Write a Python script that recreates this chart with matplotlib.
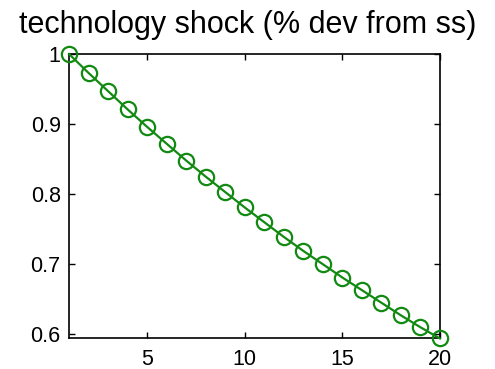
import matplotlib
matplotlib.use("Agg")
import matplotlib.pyplot as plt

periods = list(range(1, 21))
shock = [1.000, 0.973, 0.947, 0.921, 0.896, 0.872, 0.848, 0.825, 0.803, 0.781,
         0.760, 0.739, 0.719, 0.700, 0.681, 0.663, 0.645, 0.627, 0.610, 0.594]
xticks = [5, 10, 15, 20]
yticks = [0.6, 0.7, 0.8, 0.9, 1.0]
ytick_labels = ["0.6", "0.7", "0.8", "0.9", "1"]

plt.rcParams["font.family"] = ["Liberation Sans", "DejaVu Sans"]

fig = plt.figure(figsize=(4.95, 3.69), dpi=100)
ax = fig.add_axes([69 / 495, 1 - 338 / 369, (440 - 69) / 495, (338 - 54) / 369])

ax.plot(periods, shock, color="#128a12", linewidth=1.6, marker="o",
        markersize=11, markerfacecolor="none", markeredgewidth=1.6,
        clip_on=False, zorder=3)

ax.set_xlim(1, 20)
ax.set_ylim(0.5947, 1.0)
ax.set_xticks(xticks)
ax.set_yticks(yticks)
ax.set_yticklabels(ytick_labels)
ax.tick_params(direction="in", length=4, width=1, top=True, right=True,
               labelsize=15.5)
ax.tick_params(axis="x", pad=8)
ax.tick_params(axis="y", pad=6)
for s in ax.spines.values():
    s.set_linewidth(1.2)

title = ax.set_title("technology shock (% dev from ss)", fontsize=22, pad=15)
title.set_x(0.482)

fig.savefig("out.png", dpi=100)
